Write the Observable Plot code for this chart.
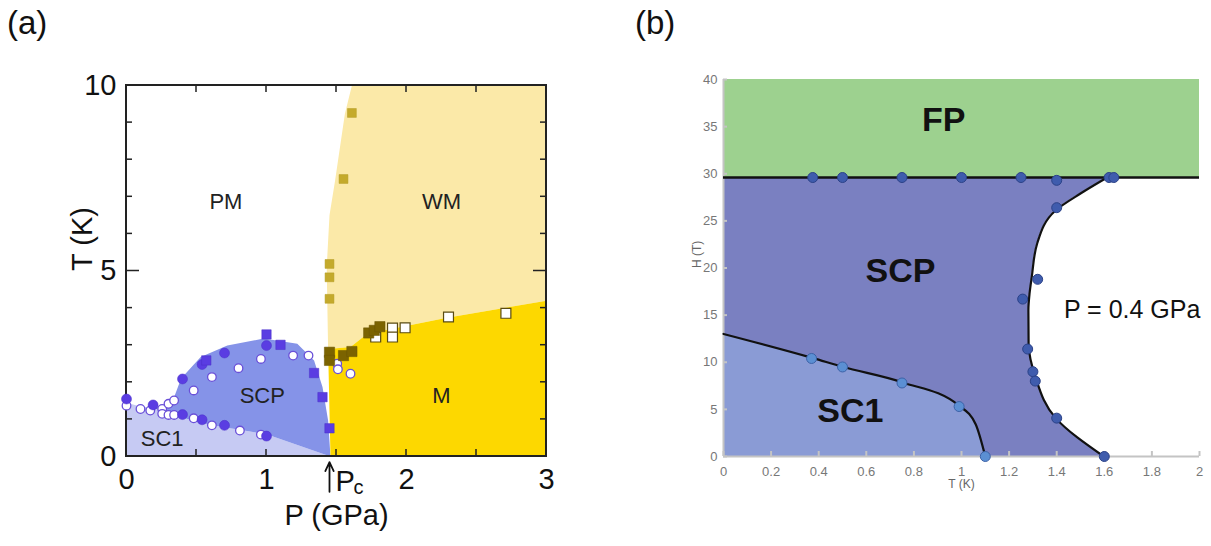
<!DOCTYPE html>
<html>
<head>
<meta charset="utf-8">
<script src="https://cdn.jsdelivr.net/npm/d3@7"></script>
<script src="https://cdn.jsdelivr.net/npm/@observablehq/plot@0.6"></script>
<style>
  html, body { margin: 0; padding: 0; background: #fff; }
  #wrap { position: relative; width: 1211px; height: 546px; font-family: "Liberation Sans", Arial, Helvetica, sans-serif; }
  .panel { position: absolute; top: 0; }
  .tag { position: absolute; font-size: 33px; color: #111; line-height: 1; }
</style>
</head>
<body>
<div id="wrap">
  <div class="tag" style="left:7px; top:6px;">(a)</div>
  <div class="tag" style="left:635px; top:6px;">(b)</div>
  <div id="pa" class="panel" style="left:0px;"></div>
  <div id="pb" class="panel" style="left:600px;"></div>
</div>
<script>
// ---------------- Panel (a): T–P phase diagram ----------------
const pDomain = [0, 3];
const tDomain = [0, 10];
const pTicks = [0, 1, 2, 3];
const tTicks = [0, 5, 10];
const pInnerTicks = [0.5, 1, 1.5, 2, 2.5];
const tMinorTicks = [1, 2, 3, 4, 6, 7, 8, 9];
const tMajorInner = [5];
const pcValue = 1.45;

// region outlines (P in GPa, T in K)
const sc1RegionP = [0, 0, 0.1, 0.2, 0.29, 0.6, 1.0, 1.457];
const sc1RegionT = [0, 1.45, 1.35, 1.3, 1.15, 0.85, 0.6, 0];
const scpRegionP = [0.2, 0.28, 0.34, 0.39, 0.53, 0.72, 0.98, 1.22, 1.34, 1.40, 1.44, 1.457, 1.0, 0.6, 0.29, 0.2];
const scpRegionT = [1.3, 1.4, 1.6, 2.1, 2.68, 2.99, 3.18, 3.04, 2.59, 1.87, 0.97, 0, 0.6, 0.85, 1.15, 1.3];
const wmRegionP = [1.44, 1.43, 1.45, 1.49, 1.56, 1.61, 3, 3, 2.29, 1.72, 1.6, 1.44];
const wmRegionT = [2.9, 5.1, 6.5, 7.44, 9.24, 10, 10, 4.2, 3.74, 3.31, 2.95, 2.9];
const mRegionP = [1.457, 1.44, 1.6, 1.72, 2.29, 3, 3];
const mRegionT = [0, 2.9, 2.95, 3.31, 3.74, 4.2, 0];

// markers
const filledCircleP = [0, 0.19, 0.40, 0.54, 0.70, 1.0, 0.40, 0.54, 0.70, 1.0];
const filledCircleT = [1.55, 1.39, 2.09, 2.48, 2.79, 2.99, 1.13, 0.99, 0.84, 0.55];
const openCircleP = [0, 0.10, 0.17, 0.255, 0.255, 0.30, 0.34, 0.30, 0.34, 0.48, 0.61, 0.80, 0.96, 1.19, 1.30, 0.48, 0.61, 0.81, 0.96, 1.505, 1.51, 1.60];
const openCircleT = [1.37, 1.28, 1.24, 1.28, 1.15, 1.42, 1.51, 1.12, 1.12, 1.78, 2.14, 2.38, 2.63, 2.72, 2.72, 1.03, 0.84, 0.70, 0.59, 2.50, 2.35, 2.23];
const blueSquareP = [0.57, 1.0, 1.1, 1.34, 1.40, 1.45];
const blueSquareT = [2.59, 3.29, 3.01, 2.25, 1.60, 0.76];
const oliveSquareP = [1.61, 1.55, 1.45, 1.45, 1.45];
const oliveSquareT = [9.26, 7.48, 5.19, 4.83, 4.25];
const openSquareP = [1.78, 1.90, 1.90, 1.99, 2.30, 2.71];
const openSquareT = [3.22, 3.46, 3.22, 3.47, 3.76, 3.86];
const darkSquareP = [1.45, 1.45, 1.55, 1.61, 1.73, 1.77, 1.81];
const darkSquareT = [2.81, 2.59, 2.72, 2.83, 3.33, 3.4, 3.50];

const regionLabelsA = ["PM", "WM", "SCP", "M", "SC1"];
const regionLabelAP = [0.71, 2.25, 0.97, 2.25, 0.255];
const regionLabelAT = [6.85, 6.85, 1.64, 1.64, 0.48];

// ---------------- Panel (b): H–T diagram at 0.4 GPa ----------------
const tDomainB = [0, 2];
const hDomainB = [0, 40];
const tTicksB = [0, 0.2, 0.4, 0.6, 0.8, 1, 1.2, 1.4, 1.6, 1.8, 2];
const hTicksB = [0, 5, 10, 15, 20, 25, 30, 35, 40];
const fpBoundaryH = 29.6;
const sc1CurveT = [0, 0.376, 0.5, 0.753, 0.99, 1.06, 1.10];
const sc1CurveH = [13.0, 10.44, 9.52, 7.86, 5.38, 3.4, 0];
const normalCurveH = [0, 4.1, 8.4, 11.9, 15.5, 17.3, 19, 22.6, 26.1, 27.9, 29.6];
const normalCurveT = [1.598, 1.395, 1.311, 1.282, 1.281, 1.286, 1.295, 1.318, 1.395, 1.50, 1.612];
const dataPointT = [0.375, 0.5, 0.75, 1.0, 1.25, 1.4, 1.62, 1.64, 1.40, 1.32, 1.257, 1.278, 1.30, 1.31, 1.40, 1.60];
const dataPointH = [29.6, 29.6, 29.6, 29.6, 29.6, 29.3, 29.6, 29.6, 26.4, 18.8, 16.7, 11.4, 9.0, 8.0, 4.07, 0];
const sc1PointT = [0.37, 0.5, 0.75, 0.99, 1.10];
const sc1PointH = [10.4, 9.5, 7.8, 5.3, 0];
const regionLabelsB = ["FP", "SCP", "SC1"];
const regionLabelBT = [0.925, 0.744, 0.533];
const regionLabelBH = [35.7, 19.7, 4.85];
const pressureNote = "P = 0.4 GPa";
const pressureNoteT = 1.717;
const pressureNoteH = 15.5;

// ---------------- helpers ----------------
const rows = (xs, ys) => xs.map((x, i) => ({x, y: ys[i]}));
const FONT = "Liberation Sans, Arial, Helvetica, sans-serif";

// ---------------- draw (a) ----------------
const A = {w: 600, h: 546, ml: 126, mr: 54, mt: 85, mb: 90};
const AFH = A.h - A.mt - A.mb, AFW = A.w - A.ml - A.mr;
const pPerPx = (pDomain[1] - pDomain[0]) / AFW;
const tPerPx = (tDomain[1] - tDomain[0]) / AFH;
const purple = "#5a3de2";
const axisInk = "#222";
// frame edges and ticks drawn as thin filled rectangles
const vEdges = pDomain.map(p => ({x1: p, x2: p, y1: tDomain[0], y2: tDomain[1]}));
const hEdges = tDomain.map(t => ({x1: pDomain[0], x2: pDomain[1], y1: t, y2: t}));
const bottomTicks = pInnerTicks.map(p => ({x1: p, x2: p, y1: tDomain[0], y2: tDomain[0] + 7 * tPerPx}));
const topTicks = pInnerTicks.map(p => ({x1: p, x2: p, y1: tDomain[1] - 7 * tPerPx, y2: tDomain[1]}));
const leftTicks = tMinorTicks.map(t => ({x1: pDomain[0], x2: pDomain[0] + 6 * pPerPx, y1: t, y2: t}))
  .concat(tMajorInner.map(t => ({x1: pDomain[0], x2: pDomain[0] + 13 * pPerPx, y1: t, y2: t})));
const rightTicks = tMinorTicks.map(t => ({x1: pDomain[1] - 6 * pPerPx, x2: pDomain[1], y1: t, y2: t}))
  .concat(tMajorInner.map(t => ({x1: pDomain[1] - 13 * pPerPx, x2: pDomain[1], y1: t, y2: t})));
const vBar = (data, half) => Plot.rect(data, {x1: "x1", x2: "x2", y1: "y1", y2: "y2", insetLeft: -half, insetRight: -half, fill: axisInk});
const hBar = (data, half, ext = 0) => Plot.rect(data, {x1: "x1", x2: "x2", y1: "y1", y2: "y2", insetTop: -half, insetBottom: -half, insetLeft: -ext, insetRight: -ext, fill: axisInk});

const chartA = Plot.plot({
  width: A.w, height: A.h,
  marginLeft: A.ml, marginRight: A.mr, marginTop: A.mt, marginBottom: A.mb,
  x: {domain: pDomain, axis: null},
  y: {domain: tDomain, axis: null},
  style: {fontFamily: FONT},
  marks: [
    Plot.line(rows(sc1RegionP, sc1RegionT), {x: "x", y: "y", fill: "#c6caf3", stroke: "none"}),
    Plot.line(rows(scpRegionP, scpRegionT), {x: "x", y: "y", fill: "#8593e8", stroke: "none"}),
    Plot.line(rows(wmRegionP, wmRegionT), {x: "x", y: "y", fill: "#fbe9a8", stroke: "none"}),
    Plot.line(rows(mRegionP, mRegionT), {x: "x", y: "y", fill: "#fdd800", stroke: "none"}),
    // ticks (inward)
    vBar(bottomTicks, 0.75),
    vBar(topTicks, 0.75),
    hBar(leftTicks, 0.75),
    hBar(rightTicks, 0.75),
    // frame
    vBar(vEdges, 1),
    hBar(hEdges, 1, 1),
    // axes
    Plot.axisX(pTicks, {anchor: "bottom", tickSize: 0, tickPadding: 12, fontSize: 29, fill: "#111", tickFormat: d => `${d}`, label: null}),
    Plot.axisY(tTicks, {anchor: "left", tickSize: 0, tickPadding: 10, fontSize: 29, fill: "#111", tickFormat: d => `${d}`, label: null}),
    Plot.text(["P (GPa)"], {frameAnchor: "bottom", dy: 68, fontSize: 29, fill: "#111"}),
    Plot.text(["T (K)"], {frameAnchor: "left", dx: -44, rotate: -90, fontSize: 29, fill: "#111"}),
    // P_c marker
    Plot.arrow([pcValue], {x1: d => d, x2: d => d, y1: -0.95, y2: -0.15, stroke: "#111", strokeWidth: 1.8, headLength: 9, headAngle: 50}),
    Plot.text([pcValue], {x: d => d, frameAnchor: "bottom", textAnchor: "start", lineAnchor: "bottom", dx: 6, dy: 34, text: () => "P", fontSize: 29, fill: "#111"}),
    Plot.text([pcValue], {x: d => d, frameAnchor: "bottom", textAnchor: "start", lineAnchor: "bottom", dx: 24, dy: 37, text: () => "c", fontSize: 20, fill: "#111"}),
    // region labels
    Plot.text(regionLabelsA, {x: (d, i) => regionLabelAP[i], y: (d, i) => regionLabelAT[i], text: d => d, fontSize: 22, fill: "#222"}),
    // markers
    Plot.dot(rows(oliveSquareP, oliveSquareT), {x: "x", y: "y", symbol: "square", r: 5, fill: "#c4aa2c", stroke: "#b39a20", strokeWidth: 0.5}),
    Plot.dot(rows(openCircleP, openCircleT), {x: "x", y: "y", symbol: "circle", r: 4.3, fill: "#fff", stroke: "#6a50d8", strokeWidth: 1.3}),
    Plot.dot(rows(filledCircleP, filledCircleT), {x: "x", y: "y", symbol: "circle", r: 5, fill: purple, stroke: "#4a30c8", strokeWidth: 0.5}),
    Plot.dot(rows(blueSquareP, blueSquareT), {x: "x", y: "y", symbol: "square", r: 5.3, fill: purple, stroke: "#4a30c8", strokeWidth: 0.5}),
    Plot.dot(rows(openSquareP, openSquareT), {x: "x", y: "y", symbol: "square", r: 5.6, fill: "#fff", stroke: "#5a4b10", strokeWidth: 1.2}),
    Plot.dot(rows(darkSquareP, darkSquareT), {x: "x", y: "y", symbol: "square", r: 5.8, fill: "#7b6300", stroke: "#6a5400", strokeWidth: 0.5})
  ]
});
document.getElementById("pa").appendChild(chartA);

// ---------------- draw (b) ----------------
const B = {w: 611, h: 546, ml: 123, mr: 12, mt: 79, mb: 90};
const BFH = B.h - B.mt - B.mb, BFW = B.w - B.ml - B.mr;
const grayInk = "#c4c4c4";
const chartB = Plot.plot({
  width: B.w, height: B.h,
  marginLeft: B.ml, marginRight: B.mr, marginTop: B.mt, marginBottom: B.mb,
  x: {domain: tDomainB, axis: null},
  y: {domain: hDomainB, axis: null},
  style: {fontFamily: FONT, overflow: "visible"},
  marks: [
    Plot.rect([{x1: tDomainB[0], x2: tDomainB[1], y1: fpBoundaryH, y2: hDomainB[1]}], {x1: "x1", x2: "x2", y1: "y1", y2: "y2", fill: "#9dd18f"}),
    Plot.rect([{x1: tDomainB[0], x2: tDomainB[1], y1: hDomainB[0], y2: fpBoundaryH}], {x1: "x1", x2: "x2", y1: "y1", y2: "y2", fill: "#7a80c1"}),
    Plot.areaX(rows(normalCurveT, normalCurveH), {y: "y", x1: "x", x2: tDomainB[1], fill: "#fff", curve: "monotone-y"}),
    Plot.areaY(rows(sc1CurveT, sc1CurveH), {x: "x", y1: hDomainB[0], y2: "y", fill: "#8a9bd5", curve: "monotone-x"}),
    // axis lines & ticks
    Plot.ruleY([hDomainB[0]], {y: d => d, x1: tDomainB[0], x2: tDomainB[1], stroke: grayInk, strokeWidth: 2}),
    Plot.ruleX([tDomainB[0]], {x: d => d, y1: hDomainB[1], y2: hDomainB[0], stroke: grayInk, strokeWidth: 2}),
    Plot.ruleX(tTicksB, {x: d => d, y1: hDomainB[1], y2: hDomainB[0], insetTop: BFH - 5, stroke: grayInk, strokeWidth: 2}),
    Plot.ruleY(hTicksB, {y: d => d, x1: tDomainB[0], x2: tDomainB[1], insetRight: BFW - 4, stroke: grayInk, strokeWidth: 2}),
    // boundaries
    Plot.ruleY([fpBoundaryH], {stroke: "#111", strokeWidth: 2.4}),
    Plot.line(rows(sc1CurveT, sc1CurveH), {x: "x", y: "y", stroke: "#111", strokeWidth: 2.2, curve: "monotone-x"}),
    Plot.line(rows(normalCurveT, normalCurveH), {x: "x", y: "y", stroke: "#111", strokeWidth: 2.2, curve: "monotone-y"}),
    // points
    Plot.dot(rows(dataPointT, dataPointH), {x: "x", y: "y", r: 5, fill: "#3f5cad", stroke: "#2b4288", strokeWidth: 1}),
    Plot.dot(rows(sc1PointT, sc1PointH), {x: "x", y: "y", r: 5, fill: "#5b8fd3", stroke: "#3c62a8", strokeWidth: 1}),
    // axes
    Plot.axisX(tTicksB, {anchor: "bottom", tickSize: 0, tickPadding: 10, fontSize: 13, fill: "#777", tickFormat: d => `${d}`, label: null}),
    Plot.axisY(hTicksB, {anchor: "left", tickSize: 0, tickPadding: 6, fontSize: 13, fill: "#777", tickFormat: d => `${d}`, label: null}),
    Plot.text(["T (K)"], {frameAnchor: "bottom", dy: 31, fontSize: 12, fill: "#666"}),
    Plot.text(["H (T)"], {frameAnchor: "left", dx: -26, rotate: -90, fontSize: 12, fill: "#666"}),
    // labels
    Plot.text(regionLabelsB, {x: (d, i) => regionLabelBT[i], y: (d, i) => regionLabelBH[i], text: d => d, fontSize: 34, fontWeight: "bold", fill: "#111"}),
    Plot.text([pressureNote], {x: () => pressureNoteT, y: () => pressureNoteH, text: d => d, fontSize: 25, fill: "#111"})
  ]
});
document.getElementById("pb").appendChild(chartB);
</script>
</body>
</html>
